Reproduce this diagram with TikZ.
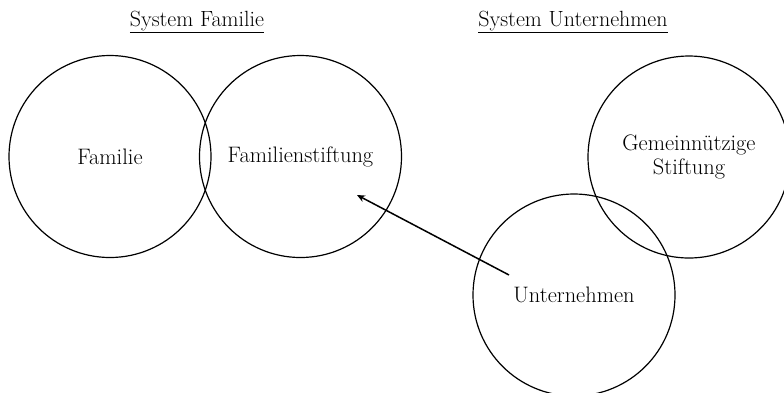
\documentclass[tikz,border=0pt]{standalone}
\usepackage{fontspec}
\usetikzlibrary{arrows.meta}
\tikzset{
  sys/.style={draw, circle, line width=1.2pt, minimum size=202pt, inner sep=0pt, align=center, font=\fontsize{22.4}{23.5}\selectfont},
  ttl/.style={font=\fontsize{22}{24}\selectfont, inner sep=0pt},
  arr/.style={line width=1.5pt, -{Stealth[length=8pt,width=7pt]}}
}
\begin{document}
\begin{tikzpicture}[x=1pt,y=-1pt]
\useasboundingbox (0,0) rectangle (784,392);
\node[ttl] (t1) at (197,22) {\underline{System Familie}};
\node[ttl] (t2) at (573,22) {\underline{System Unternehmen}};
\node[sys] (fam) at (110,156.5) {Familie};
\node[sys] (fst) at (300.5,156.5) {Familienstiftung};
\node[sys] (gem) at (689,157) {Gemeinnützige\\Stiftung};
\node[sys] (unt) at (574,295) {Unternehmen};
\coordinate (as) at (509,275);
\coordinate (ae) at (357,195);
\draw[arr] (as) -- (ae);
\end{tikzpicture}
\end{document}
